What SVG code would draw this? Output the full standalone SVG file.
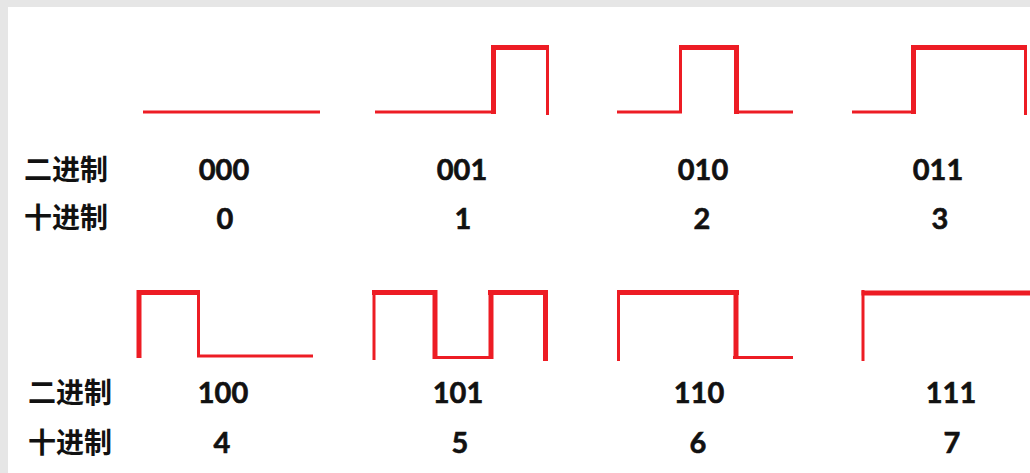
<svg xmlns="http://www.w3.org/2000/svg" width="1030" height="473" viewBox="0 0 1030 473">
  <style>
    .wave line { stroke: #ed1c24; stroke-linecap: butt; }
    .thin { stroke-width: 3; }
    .thick { stroke-width: 5; }
    .num { font-family: Lato, "Liberation Sans", sans-serif; font-weight: bold; font-size: 29px; fill: #111; stroke: #111; stroke-width: 0.6; text-anchor: middle; }
    .lbl { font-family: "Noto Sans CJK SC", "Noto Sans", sans-serif; font-weight: bold; font-size: 28px; fill: #111; }
  </style>
  <!-- page frame -->
  <rect x="0" y="0" width="1030" height="473" fill="#e6e6e6"/>
  <rect x="8" y="7" width="1022" height="466" fill="#ffffff"/>

  <!-- row labels -->
  <g id="labels">
    <text class="lbl" x="24" y="180">二进制</text>
    <text class="lbl" x="24" y="228">十进制</text>
    <text class="lbl" x="28" y="403">二进制</text>
    <text class="lbl" x="28" y="453">十进制</text>
  </g>

  <!-- 000 / 0 -->
  <g id="code-0">
    <g class="wave">
      <line class="thin" x1="143" y1="112" x2="320" y2="112"/>
    </g>
    <text class="num" x="224" y="180">000</text>
    <text class="num" x="225" y="229">0</text>
  </g>

  <!-- 001 / 1 -->
  <g id="code-1">
    <g class="wave">
      <line class="thin" x1="375" y1="112" x2="496" y2="112"/>
      <line class="thick" x1="493.5" y1="114" x2="493.5" y2="45"/>
      <line class="thick" x1="491" y1="47.5" x2="549" y2="47.5"/>
      <line class="thin" x1="547.5" y1="45" x2="547.5" y2="115"/>
    </g>
    <text class="num" x="462" y="180">001</text>
    <text class="num" x="463" y="229">1</text>
  </g>

  <!-- 010 / 2 -->
  <g id="code-2">
    <g class="wave">
      <line class="thin" x1="617" y1="112" x2="682" y2="112"/>
      <line class="thin" x1="680.5" y1="113" x2="680.5" y2="45"/>
      <line class="thick" x1="679" y1="47.5" x2="739" y2="47.5"/>
      <line class="thick" x1="736.5" y1="45" x2="736.5" y2="114"/>
      <line class="thin" x1="734" y1="112" x2="793" y2="112"/>
    </g>
    <text class="num" x="703" y="180">010</text>
    <text class="num" x="702" y="229">2</text>
  </g>

  <!-- 011 / 3 -->
  <g id="code-3">
    <g class="wave">
      <line class="thin" x1="852" y1="112" x2="916" y2="112"/>
      <line class="thick" x1="913.5" y1="114" x2="913.5" y2="45"/>
      <line class="thick" x1="911" y1="47.5" x2="1027" y2="47.5"/>
      <line class="thin" x1="1025.5" y1="45" x2="1025.5" y2="115"/>
    </g>
    <text class="num" x="938" y="180">011</text>
    <text class="num" x="940" y="229">3</text>
  </g>

  <!-- 100 / 4 -->
  <g id="code-4">
    <g class="wave">
      <line class="thick" x1="139" y1="358" x2="139" y2="290"/>
      <line class="thick" x1="137" y1="292.5" x2="200" y2="292.5"/>
      <line class="thin" x1="198.5" y1="290" x2="198.5" y2="357"/>
      <line class="thin" x1="197" y1="356" x2="313" y2="356"/>
    </g>
    <text class="num" x="223" y="403">100</text>
    <text class="num" x="222" y="453">4</text>
  </g>

  <!-- 101 / 5 -->
  <g id="code-5">
    <g class="wave">
      <line class="thin" x1="374" y1="360" x2="374" y2="290"/>
      <line class="thick" x1="372" y1="292.5" x2="437" y2="292.5"/>
      <line class="thick" x1="435" y1="290" x2="435" y2="359"/>
      <line class="thin" x1="433" y1="357.5" x2="492" y2="357.5"/>
      <line class="thick" x1="491" y1="359" x2="491" y2="290"/>
      <line class="thick" x1="488" y1="292.5" x2="548" y2="292.5"/>
      <line class="thick" x1="545.5" y1="290" x2="545.5" y2="361"/>
    </g>
    <text class="num" x="458" y="403">101</text>
    <text class="num" x="460" y="453">5</text>
  </g>

  <!-- 110 / 6 -->
  <g id="code-6">
    <g class="wave">
      <line class="thin" x1="618.5" y1="361" x2="618.5" y2="290"/>
      <line class="thick" x1="617" y1="292.5" x2="739" y2="292.5"/>
      <line class="thick" x1="736" y1="290" x2="736" y2="359"/>
      <line class="thin" x1="733" y1="357.5" x2="793" y2="357.5"/>
    </g>
    <text class="num" x="699" y="403">110</text>
    <text class="num" x="698" y="453">6</text>
  </g>

  <!-- 111 / 7 -->
  <g id="code-7">
    <g class="wave">
      <line class="thin" x1="863" y1="361" x2="863" y2="290"/>
      <line class="thick" x1="861.5" y1="293" x2="1030" y2="293"/>
    </g>
    <text class="num" x="951" y="403">111</text>
    <text class="num" x="952" y="453">7</text>
  </g>
</svg>
